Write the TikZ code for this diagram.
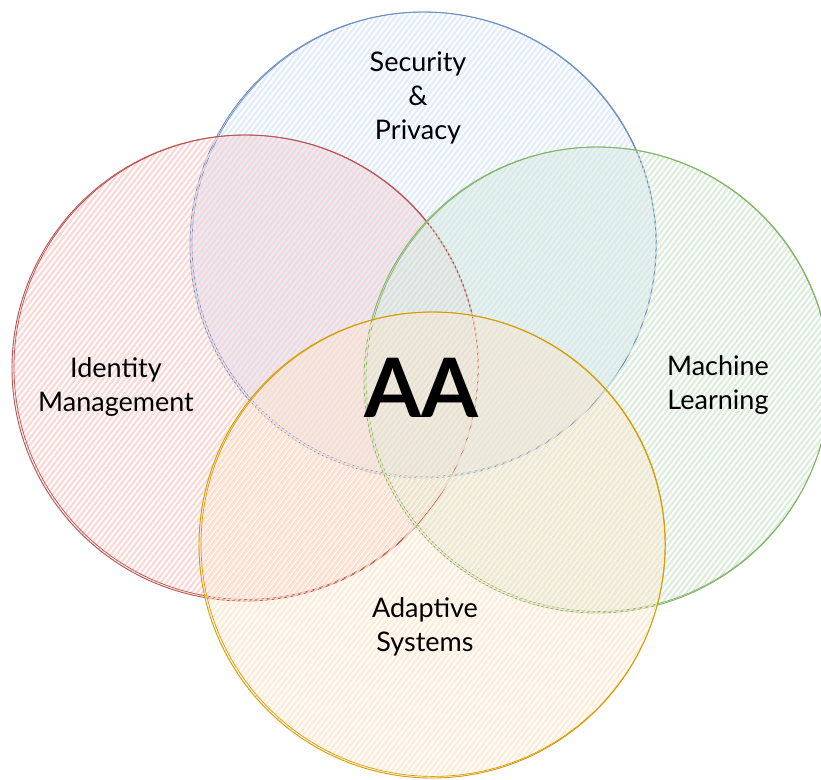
\documentclass[tikz,border=0pt]{standalone}
\usepackage{fontspec}
\setmainfont{Lato}
\definecolor{bluefill}{HTML}{DAE8FC}
\definecolor{bluestroke}{HTML}{6C8EBF}
\definecolor{redfill}{HTML}{F8CECC}
\definecolor{redstroke}{HTML}{B85450}
\definecolor{greenfill}{HTML}{D5E8D4}
\definecolor{greenstroke}{HTML}{82B366}
\definecolor{orangefill}{HTML}{FFE6CC}
\definecolor{orangestroke}{HTML}{D79B00}
\newcommand{\hatchcircle}[5]{%
\begin{scope}
\clip (#1,#2) circle (#3);
\pgfmathsetmacro{\hstart}{round((#1-330)/5.5)*5.5+#5}
\foreach \k in {0,...,120}{
 \pgfmathsetmacro{\ha}{\hstart+\k*5.5}
 \draw[#4, line width=2.2pt, opacity=0.8] ({\ha-200},{#2+260}) -- ({\ha+200},{#2-260});
}
\end{scope}}
\newcommand{\sketchoutline}[4]{%
\draw[#4, line width=0.9pt] (#1,#2) circle (#3);
\draw[#4, line width=0.7pt] ({#1+1.2},{#2-0.8}) circle ({#3-0.8});
}
\tikzset{lbl/.style={font=\fontsize{27}{34}\selectfont, align=center, text=black},
 big/.style={font=\fontsize{82}{90}\selectfont\bfseries, text=black}}
\begin{document}
\begin{tikzpicture}[x=1pt,y=-1pt]
\useasboundingbox (0,0) rectangle (821,779);
\hatchcircle{423}{245}{233}{bluefill}{0}
\sketchoutline{423}{245}{233}{bluestroke}
\hatchcircle{245}{368}{233}{redfill}{1.4}
\sketchoutline{245}{368}{233}{redstroke}
\hatchcircle{597}{380}{233}{greenfill}{2.8}
\sketchoutline{597}{380}{233}{greenstroke}
\hatchcircle{432}{545}{233}{orangefill}{4.1}
\sketchoutline{432}{545}{233}{orangestroke}
\node[lbl] (sec) at (418,98) {Security\\\&\\Privacy};
\node[lbl] (idm) at (116,387) {Identity\\Management};
\node[lbl] (ml) at (718,385) {Machine\\Learning};
\node[lbl] (ads) at (425,627) {Adaptive\\Systems};
\node[big] (aa) at (421,388) {AA};
\end{tikzpicture}
\end{document}
